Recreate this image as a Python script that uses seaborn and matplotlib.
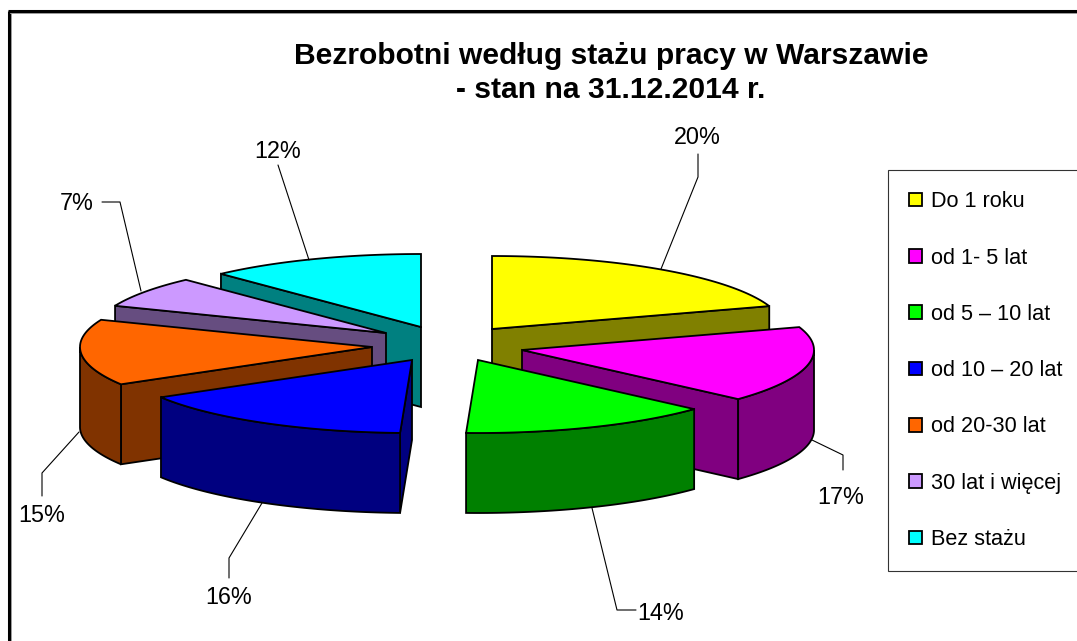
import numpy as np
import matplotlib
matplotlib.use("Agg")
import matplotlib.pyplot as plt
from matplotlib.patches import Patch
import seaborn as sns

# dane (udzial w %)
kategorie = ["Do 1 roku", "od 1- 5 lat", "od 5 – 10 lat", "od 10 – 20 lat",
             "od 20-30 lat", "30 lat i więcej", "Bez stażu"]
udzialy = [19.9, 16.8, 13.9, 15.8, 14.6, 6.9, 12.0]
kolory = ["#FFFF00", "#FF00FF", "#00FF00", "#0000FF", "#FF6600", "#CC99FF", "#00FFFF"]
tytul = "Bezrobotni według stażu pracy w Warszawie\n- stan na 31.12.2014 r."

# rozsuniecie wycinkow i uklad (w pikselach obrazka)
srodki = [(492, 329), (522, 350), (478, 360), (412, 360), (372, 347), (386, 333), (421, 327)]
kolejnosc = [0, 6, 5, 4, 1, 3, 2]
rx, ry, wys = 292, 73, 80
pozycje_etykiet = [(697, 137), (841, 497), (661, 614), (229, 597), (42, 515), (77, 203), (278, 152)]
linie = [
    [(661, 269), (698, 177), (698, 154)],
    [(812, 440), (843, 455), (843, 470)],
    [(592, 508), (617, 610), (636, 610)],
    [(262, 503), (229, 558), (229, 578)],
    [(79, 432), (42, 473), (42, 496)],
    [(141, 291), (120, 202), (102, 202)],
    [(309, 260), (278, 165), (278, 165)],
]

sns.set_theme(style="white")
plt.rcParams["font.family"] = ["Liberation Sans", "DejaVu Sans"]
paleta = sns.color_palette(kolory)

fig = plt.figure(figsize=(10.77, 6.41), dpi=100)
ax = fig.add_axes([0, 0, 1, 1])
ax.set_xlim(0, 1077)
ax.set_ylim(641, 0)
ax.axis("off")


def luk(cx, cy, t1, t2, dy=0):
    t = np.radians(np.linspace(t1, t2, 60))
    return cx + rx * np.sin(t), cy - ry * np.cos(t) + dy


granice = np.concatenate([[0], np.cumsum(udzialy)]) / sum(udzialy) * 360

for i in kolejnosc:
    cx, cy = srodki[i]
    t1, t2 = granice[i], granice[i + 1]
    jasny = paleta[i]
    ciemny = tuple(np.array(jasny) * 0.5)
    x, y = luk(cx, cy, t1, t2)

    # sciany promieniowe - tylko te zwrocone do widza
    if np.sin(np.radians(t1)) < 0:
        ax.fill([cx, x[0], x[0], cx], [cy, y[0], y[0] + wys, cy + wys],
                facecolor=ciemny, edgecolor="black", lw=1.3)
    if np.sin(np.radians(t2)) > 1e-6:
        ax.fill([cx, x[-1], x[-1], cx], [cy, y[-1], y[-1] + wys, cy + wys],
                facecolor=ciemny, edgecolor="black", lw=1.3)

    # sciana zewnetrzna (tylko przod)
    a, b = max(t1, 90), min(t2, 270)
    if a < b:
        xa, ya = luk(cx, cy, a, b)
        ax.fill(np.r_[xa, xa[::-1]], np.r_[ya, ya[::-1] + wys],
                facecolor=ciemny, edgecolor="black", lw=1.3)

    # wierzch
    ax.fill(np.r_[cx, x], np.r_[cy, y], facecolor=jasny, edgecolor="black", lw=1.3)

for i, p in enumerate(linie):
    ax.plot([q[0] for q in p], [q[1] for q in p], color="black", lw=0.8)
    ax.text(pozycje_etykiet[i][0], pozycje_etykiet[i][1], f"{udzialy[i]:.0f}%",
            ha="center", va="center", fontsize=16.8, color="black")

ax.text(611, 73, tytul, ha="center", va="center", fontsize=21.6, fontweight="bold",
        color="black", linespacing=1.28)

# ramka wykresu
ax.plot([9, 9], [641, 11], color="black", lw=2.2, solid_capstyle="butt")
ax.plot([8, 1077], [11, 11], color="black", lw=2.2, solid_capstyle="butt")
ax.plot([10.5, 10.5], [641, 12.5], color="#999999", lw=0.7)
ax.plot([10, 1077], [12.5, 12.5], color="#999999", lw=0.7)

uchwyty = [Patch(facecolor=paleta[i], edgecolor="black", lw=1.3) for i in range(len(kategorie))]
leg = ax.legend(uchwyty, kategorie, loc="upper left", bbox_to_anchor=(888, 170),
                bbox_transform=ax.transData, borderaxespad=0, fontsize=15.6,
                labelspacing=1.63, handlelength=0.6, handleheight=0.6, handletextpad=0.42,
                borderpad=0.98, fancybox=False, framealpha=1, labelcolor="black")
leg.get_frame().set_edgecolor("#333333")
leg.get_frame().set_linewidth(0.8)

plt.savefig("out.png", dpi=100, facecolor="white")
